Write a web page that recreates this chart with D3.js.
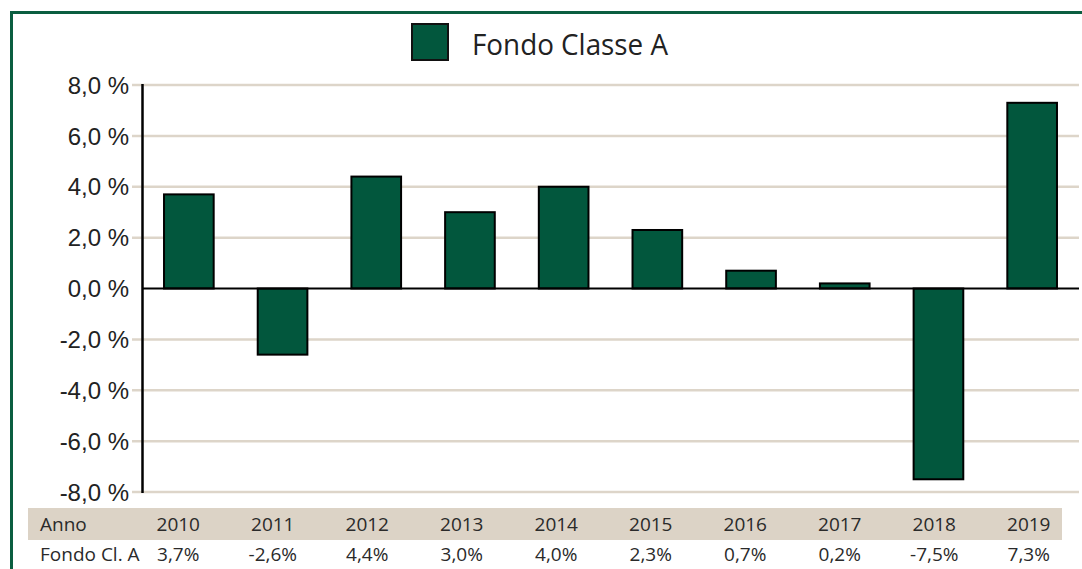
<!DOCTYPE html>
<html>
<head>
<meta charset="utf-8">
<script src="https://cdn.jsdelivr.net/npm/d3@7"></script>
<style>
  html, body { margin: 0; padding: 0; background: #fff; }
  svg { display: block; }
</style>
</head>
<body>
<script>
// ---- Data ----
const years = ["2010","2011","2012","2013","2014","2015","2016","2017","2018","2019"];
const values = [3.7, -2.6, 4.4, 3.0, 4.0, 2.3, 0.7, 0.2, -7.5, 7.3];
const valueLabels = ["3,7%","-2,6%","4,4%","3,0%","4,0%","2,3%","0,7%","0,2%","-7,5%","7,3%"];
const yTicks = [-8, -6, -4, -2, 0, 2, 4, 6, 8];
const seriesName = "Fondo Classe A";
const rowHeaders = ["Anno", "Fondo Cl. A"];

// ---- Setup ----
const W = 1082, H = 569;
const green = "#02573d";
const borderGreen = "#0a5e40";
const grid = "#ddd5c9";
const svg = d3.select("body").append("svg").attr("width", W).attr("height", H);

const it = d3.formatLocale({decimal: ",", thousands: ".", grouping: [3], currency: ["", "€"], minus: "-"});
const fmt = v => it.format(".1f")(v) + " %";

const x = d3.scaleBand().domain(years).range([142, 1079]).paddingInner(0.47).paddingOuter(0.235);
const y = d3.scaleLinear().domain([-8, 8]).range([492, 85]);

// Frame (green border: top and left)
svg.append("line").attr("x1", 11).attr("x2", W).attr("y1", 12.5).attr("y2", 12.5)
  .attr("stroke", borderGreen).attr("stroke-width", 3);
svg.append("line").attr("x1", 11.5).attr("x2", 11.5).attr("y1", 11).attr("y2", H)
  .attr("stroke", borderGreen).attr("stroke-width", 3);

// Gridlines
svg.append("g").selectAll("line").data(yTicks.filter(d => d !== 0)).join("line")
  .attr("x1", 132).attr("x2", 1079)
  .attr("y1", d => y(d)).attr("y2", d => y(d))
  .attr("stroke", grid).attr("stroke-width", 2.5);

// Y axis labels
svg.append("g").selectAll("text").data(yTicks).join("text")
  .attr("x", 129).attr("y", d => y(d)).attr("dy", "0.36em")
  .attr("text-anchor", "end")
  .attr("font-family", "'Liberation Sans', Arial, sans-serif")
  .attr("font-size", 24).attr("fill", "#222")
  .text(d => fmt(d));

// Bars
svg.append("g").selectAll("rect").data(values).join("rect")
  .attr("x", (d, i) => x(years[i]))
  .attr("width", x.bandwidth())
  .attr("y", d => y(Math.max(0, d)))
  .attr("height", d => Math.abs(y(d) - y(0)))
  .attr("fill", green).attr("stroke", "#000").attr("stroke-width", 2);

// Zero line
svg.append("line").attr("x1", 142).attr("x2", 1079).attr("y1", y(0)).attr("y2", y(0))
  .attr("stroke", "#000").attr("stroke-width", 2);

// Y axis line
svg.append("line").attr("x1", 142.5).attr("x2", 142.5).attr("y1", 84).attr("y2", 493)
  .attr("stroke", "#000").attr("stroke-width", 2.5);

// Legend
svg.append("rect").attr("x", 412).attr("y", 24).attr("width", 36).attr("height", 36)
  .attr("fill", green).attr("stroke", "#111").attr("stroke-width", 2);
svg.append("text").attr("x", 472).attr("y", 55)
  .attr("font-family", "'Open Sans', sans-serif").attr("font-size", 30)
  .attr("textLength", 196).attr("lengthAdjust", "spacingAndGlyphs")
  .attr("fill", "#222").text(seriesName);

// Data table
const tx = d3.scaleBand().domain(years).range([131, 1076]);
svg.append("rect").attr("x", 28).attr("y", 508).attr("width", 1034).attr("height", 32)
  .attr("fill", "#dcd3c6");
const tfont = "'Open Sans', sans-serif";
svg.append("text").attr("x", 40).attr("y", 524).attr("dy", "0.36em")
  .attr("font-family", tfont).attr("font-size", 19).attr("fill", "#2a2a2a").text(rowHeaders[0]);
svg.append("text").attr("x", 40).attr("y", 554).attr("dy", "0.36em")
  .attr("font-family", tfont).attr("font-size", 19).attr("fill", "#2a2a2a").text(rowHeaders[1]);
svg.append("g").selectAll("text").data(years).join("text")
  .attr("x", d => tx(d) + tx.bandwidth() / 2).attr("y", 524).attr("dy", "0.36em")
  .attr("text-anchor", "middle")
  .attr("font-family", tfont).attr("font-size", 19).attr("fill", "#2a2a2a").text(d => d);
svg.append("g").selectAll("text").data(valueLabels).join("text")
  .attr("x", (d, i) => tx(years[i]) + tx.bandwidth() / 2).attr("y", 554).attr("dy", "0.36em")
  .attr("text-anchor", "middle")
  .attr("font-family", tfont).attr("font-size", 19).attr("fill", "#2a2a2a").text(d => d);
</script>
</body>
</html>
